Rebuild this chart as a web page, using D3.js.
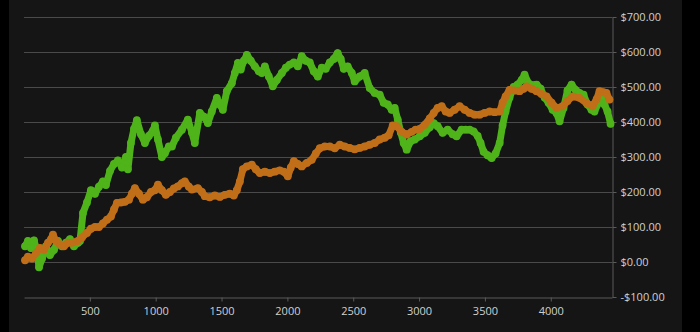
<!DOCTYPE html>
<html>
<head>
<meta charset="utf-8">
<script src="https://cdn.jsdelivr.net/npm/d3@7"></script>
<style>
  html, body { margin: 0; padding: 0; background: #000; }
  svg { display: block; }
  text { font-family: "Open Sans", "Noto Sans", sans-serif; font-size: 11px; fill: #d0d0d0; }
</style>
</head>
<body>
<div id="chart"></div>
<script>
// tick values
var xTicks = [500, 1000, 1500, 2000, 2500, 3000, 3500, 4000];
var yTicks = [-100, 0, 100, 200, 300, 400, 500, 600, 700];

// green series (x = trade number, y = dollars)
var greenX = [8, 30, 53, 76, 99, 114, 137, 167, 197, 228, 258, 288, 319, 349, 379, 410, 425, 448, 478, 508,
  539, 569, 599, 622, 653, 683, 713, 744, 774, 789, 812, 835, 857, 888, 918, 948, 979, 994, 1017, 1047,
  1070, 1100, 1123, 1153, 1199, 1244, 1275, 1297, 1335, 1366, 1396, 1426, 1464, 1487, 1510, 1540, 1578, 1601, 1624, 1646,
  1669, 1692, 1722, 1753, 1783, 1806, 1829, 1859, 1889, 1920, 1958, 1988, 2018, 2049, 2079, 2109, 2140, 2170, 2200, 2231,
  2261, 2291, 2322, 2352, 2382, 2405, 2428, 2458, 2489, 2511, 2549, 2587, 2625, 2663, 2701, 2731, 2762, 2792, 2815, 2838,
  2861, 2883, 2906, 2936, 2967, 3005, 3043, 3081, 3111, 3141, 3179, 3217, 3255, 3285, 3323, 3354, 3384, 3414, 3445, 3467,
  3490, 3520, 3551, 3581, 3612, 3634, 3657, 3687, 3718, 3748, 3779, 3801, 3832, 3862, 3892, 3923, 3953, 3983, 4014, 4044,
  4067, 4097, 4127, 4158, 4188, 4218, 4249, 4279, 4309, 4332, 4363, 4385, 4408, 4431, 4454];
var greenY = [45, 60, 40, 62, 30, -15, 10, 45, 20, 35, 60, 45, 55, 65, 45, 55, 60, 140, 170, 205,
  195, 215, 230, 220, 260, 280, 290, 270, 300, 265, 340, 380, 405, 365, 340, 360, 375, 390, 350, 300,
  311, 330, 330, 355, 378, 407, 370, 340, 426, 415, 397, 430, 469, 450, 435, 488, 511, 540, 569, 550,
  575, 592, 575, 559, 545, 540, 559, 530, 502, 520, 540, 555, 564, 570, 559, 588, 575, 570, 545, 530,
  555, 552, 570, 580, 597, 580, 552, 559, 540, 516, 530, 540, 497, 483, 478, 455, 450, 435, 440, 407,
  370, 340, 321, 345, 350, 359, 369, 385, 397, 388, 369, 378, 365, 359, 378, 378, 378, 373, 360, 340,
  315, 305, 297, 310, 340, 390, 430, 470, 500, 507, 520, 535, 510, 505, 507, 495, 470, 455, 435, 425,
  402, 440, 490, 507, 492, 483, 478, 450, 435, 430, 455, 469, 450, 430, 395];

// orange series
var orangeX = [8, 30, 61, 91, 121, 152, 182, 205, 220, 243, 273, 303, 334, 364, 402, 440, 478, 508, 539, 569,
  599, 630, 660, 683, 706, 736, 766, 797, 819, 842, 873, 903, 933, 964, 994, 1017, 1047, 1077, 1108, 1138,
  1168, 1199, 1221, 1252, 1275, 1320, 1351, 1373, 1411, 1449, 1487, 1525, 1563, 1593, 1616, 1639, 1662, 1692, 1730, 1760,
  1791, 1829, 1867, 1904, 1942, 1973, 2003, 2026, 2049, 2079, 2109, 2147, 2185, 2216, 2246, 2284, 2322, 2360, 2398, 2435,
  2473, 2511, 2549, 2587, 2625, 2663, 2701, 2739, 2769, 2800, 2830, 2868, 2906, 2944, 2974, 3005, 3043, 3081, 3111, 3141,
  3172, 3202, 3232, 3270, 3308, 3346, 3384, 3422, 3460, 3498, 3536, 3574, 3612, 3634, 3657, 3687, 3725, 3763, 3794, 3817,
  3854, 3892, 3930, 3968, 4006, 4044, 4090, 4127, 4165, 4218, 4272, 4317, 4348, 4370, 4400, 4423, 4446];
var orangeY = [5, 15, 10, 25, 40, 35, 55, 65, 78, 60, 50, 45, 55, 55, 59, 70, 83, 95, 100, 100,
  110, 121, 130, 150, 169, 170, 172, 178, 195, 211, 195, 178, 185, 200, 205, 221, 205, 192, 200, 210,
  216, 225, 230, 215, 207, 211, 200, 188, 185, 190, 186, 192, 195, 190, 205, 230, 265, 273, 278, 265,
  254, 258, 254, 258, 262, 258, 245, 270, 288, 280, 273, 283, 292, 310, 325, 330, 330, 325, 335, 330,
  326, 322, 326, 330, 335, 340, 350, 355, 362, 390, 388, 372, 364, 372, 378, 380, 392, 410, 426, 440,
  445, 430, 426, 435, 445, 435, 426, 421, 421, 426, 430, 428, 430, 455, 473, 492, 490, 488, 495, 502,
  495, 488, 480, 473, 455, 440, 445, 460, 473, 469, 454, 445, 465, 488, 485, 483, 464];

var W = 700, H = 332;
var margin = { left: 24, right: 612, top: 17, bottom: 297 };

var svg = d3.select('#chart')
  .append('svg')
  .attr('width', W)
  .attr('height', H);

// panel background
svg.append('rect')
  .attr('x', 9).attr('y', 0)
  .attr('width', 673).attr('height', H)
  .attr('fill', '#151515');

var x = d3.scaleLinear().domain([0, 4465]).range([margin.left, margin.right]);
var y = d3.scaleLinear().domain([-100, 700]).range([margin.bottom, margin.top]);

// grid lines
svg.append('g')
  .selectAll('line')
  .data(yTicks.slice(1))
  .enter()
  .append('line')
  .attr('x1', margin.left).attr('x2', margin.right)
  .attr('y1', function(d) { return y(d) + 0.5; })
  .attr('y2', function(d) { return y(d) + 0.5; })
  .attr('stroke', '#4a4a4a')
  .attr('stroke-width', 1);

// x axis
var xAxis = svg.append('g')
  .attr('transform', 'translate(0,' + (margin.bottom + 0.5) + ')')
  .call(d3.axisBottom(x).tickValues(xTicks).tickSize(4).tickSizeOuter(0).tickPadding(6).tickFormat(d3.format('d')));

// y axis on the right
var yAxis = svg.append('g')
  .attr('transform', 'translate(' + (margin.right + 0.5) + ',0)')
  .call(d3.axisRight(y).tickValues(yTicks).tickSize(4).tickSizeOuter(0).tickPadding(4)
    .tickFormat(function(d) { return (d < 0 ? '-$' : '$') + Math.abs(d).toFixed(2); }));

[xAxis, yAxis].forEach(function(a) {
  a.select('.domain').attr('stroke', '#5a5a5a');
  a.selectAll('.tick line').attr('stroke', '#5a5a5a');
  a.selectAll('text').attr('fill', '#d0d0d0').style('font-size', '11px')
    .style('font-family', '"Open Sans", "Noto Sans", sans-serif');
});

function drawSeries(xs, ys, color) {
  var pts = xs.map(function(d, i) { return [d, ys[i]]; });
  var line = d3.line()
    .x(function(d) { return x(d[0]); })
    .y(function(d) { return y(d[1]); });
  var g = svg.append('g');
  g.append('path')
    .datum(pts)
    .attr('d', line)
    .attr('fill', 'none')
    .attr('stroke', color)
    .attr('stroke-width', 7)
    .attr('stroke-linejoin', 'round')
    .attr('stroke-linecap', 'round');
  g.selectAll('circle')
    .data(pts)
    .enter()
    .append('circle')
    .attr('cx', function(d) { return x(d[0]); })
    .attr('cy', function(d) { return y(d[1]); })
    .attr('r', 3.9)
    .attr('fill', color);
}

drawSeries(greenX, greenY, '#4fb31a');
drawSeries(orangeX, orangeY, '#c06f18');
</script>
</body>
</html>
